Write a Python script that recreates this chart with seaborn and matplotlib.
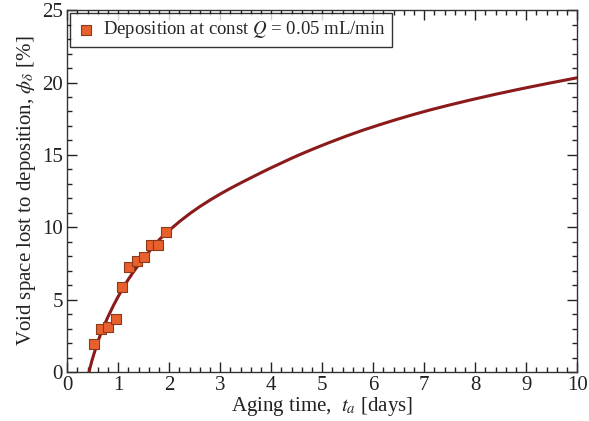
import matplotlib
matplotlib.use("Agg")
import matplotlib.pyplot as plt
import seaborn as sns
import pandas as pd
from matplotlib.ticker import MultipleLocator

# measured data points
t_data = [0.52, 0.66, 0.81, 0.95, 1.08, 1.22, 1.37, 1.50, 1.64, 1.78, 1.93]
phi_data = [1.95, 2.95, 3.15, 3.7, 5.85, 7.25, 7.7, 7.95, 8.75, 8.8, 9.65]

# fitted curve
t_fit = [0.43, 0.445, 0.48, 0.52, 0.60, 0.68, 0.80, 0.91, 1.00, 1.10, 1.20,
         1.30, 1.43, 1.56, 1.69, 1.82, 2.02, 2.21, 2.41, 2.60, 2.80, 3.00,
         3.20, 3.40, 3.59, 3.80, 3.98, 4.18, 4.40, 4.60, 4.83, 5.15, 5.48,
         5.80, 6.14, 6.46, 6.79, 7.12, 7.50, 7.90, 8.40, 8.88, 9.40, 9.93, 10.0]
phi_fit = [0.0, 0.25, 0.72, 1.2, 2.08, 2.86, 3.82, 4.62, 5.22, 5.84, 6.41,
           6.93, 7.54, 8.12, 8.68, 9.2, 9.85, 10.42, 10.96, 11.43, 11.88, 12.3,
           12.69, 13.06, 13.4, 13.77, 14.08, 14.41, 14.77, 15.08, 15.42, 15.87, 16.31,
           16.71, 17.1, 17.45, 17.79, 18.11, 18.45, 18.79, 19.19, 19.55, 19.92, 20.28, 20.33]

sns.set_theme(style="white")
plt.rcParams['font.family'] = ['Liberation Serif', 'DejaVu Serif']
plt.rcParams['mathtext.fontset'] = 'stix'

fig = plt.figure(figsize=(5.89, 4.21), dpi=100)
ax = fig.add_axes([0.114, 0.116, 0.866, 0.86])

df_fit = pd.DataFrame({"t": t_fit, "phi": phi_fit})
df_dat = pd.DataFrame({"t": t_data, "phi": phi_data})

sns.lineplot(data=df_fit, x="t", y="phi", ax=ax, color="#8B1A1A", lw=2.2,
             sort=True, estimator=None, zorder=2)
sns.scatterplot(data=df_dat, x="t", y="phi", ax=ax, marker="s", s=48,
                color="#E8602C", edgecolor="#8B3A1A", linewidth=0.8, zorder=3,
                label=r"Deposition at const $Q$ = 0.05 mL/min")

ax.set_xlim(0, 10)
ax.set_ylim(0, 25)
ax.xaxis.set_major_locator(MultipleLocator(1))
ax.xaxis.set_minor_locator(MultipleLocator(0.2))
ax.yaxis.set_major_locator(MultipleLocator(5))
ax.yaxis.set_minor_locator(MultipleLocator(1))
ax.tick_params(which="both", direction="in", top=True, right=True,
               bottom=True, left=True, colors="#222222", labelcolor="#222222")
ax.tick_params(which="major", length=7, width=1, labelsize=15)
ax.tick_params(axis="x", which="major", pad=3)
ax.tick_params(axis="y", which="major", pad=3)
ax.tick_params(which="minor", length=3.5, width=1)
for s in ax.spines.values():
    s.set_color("#333333")
    s.set_linewidth(1.0)

ax.set_xlabel(r"Aging time,  $t_a$ [days]", fontsize=15, color="#222222", labelpad=0)
ax.set_ylabel(r"Void space lost to deposition, $\phi_\delta$ [%]", fontsize=15,
              color="#222222", labelpad=3)

leg = ax.legend(loc="upper left", fontsize=13.5, frameon=True, fancybox=False,
                edgecolor="black", handletextpad=0.4, borderpad=0.35,
                handlelength=1.0, borderaxespad=0.15)
leg.get_frame().set_linewidth(1.0)

fig.savefig("out.png", dpi=100)
